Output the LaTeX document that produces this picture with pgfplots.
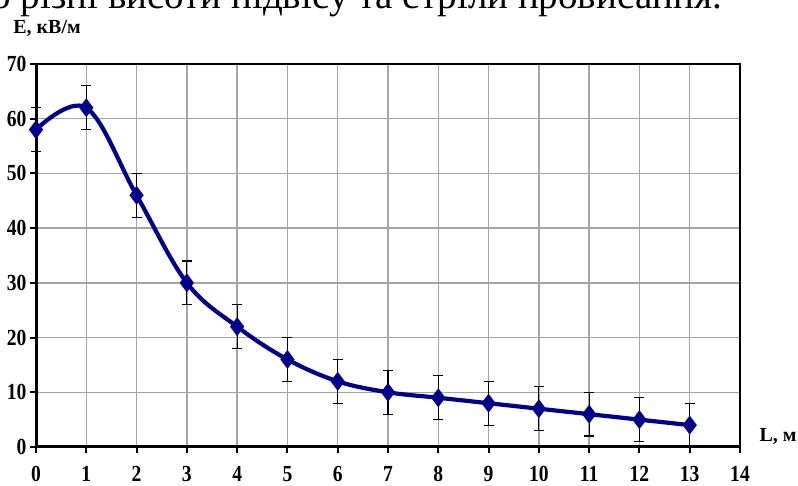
\documentclass[border=0pt]{standalone}
\usepackage{fontspec}
\setmainfont{Liberation Serif}
\newfontfamily\tickfont[FakeStretch=0.85]{Liberation Serif}
\usepackage{pgfplots}
\pgfplotsset{compat=1.18}
\definecolor{navy}{RGB}{0,0,140}
\definecolor{gridgray}{RGB}{165,165,165}
\begin{document}
\begin{tikzpicture}
\path[use as bounding box] (0pt,0pt) rectangle (798pt,486pt);
\clip (0pt,0pt) rectangle (798pt,486pt);
\node[anchor=base east,inner sep=0pt,font=\fontsize{39}{42}\selectfont] at (722pt,477pt) {що різні висоти підвісу та стріли провисання.};
\begin{axis}[
  at={(36pt,39pt)}, anchor=south west,
  scale only axis, width=704pt, height=383pt,
  xmin=0, xmax=14, ymin=0, ymax=70,
  xtick={0,1,...,14}, ytick={0,10,...,70},
  grid=major,
  major grid style={gridgray, line width=1.3pt},
  axis line style={black, line width=1.5pt},
  tick align=outside,
  major tick length=6pt,
  every tick/.style={black, line width=2pt},
  xtick pos=bottom, ytick pos=left,
  ticklabel style={font=\tickfont\fontsize{23}{25}\selectfont\bfseries},
  /pgf/number format/assume math mode=true,
  xticklabel style={yshift=-10pt},
  yticklabel style={xshift=0pt},
  clip=false,
]
\addplot[navy, line width=4.2pt, smooth, tension=0.6,
  mark=diamond*, mark size=6pt, mark options={solid, fill=navy},
  error bars/.cd, y dir=both, y explicit,
  error bar style={black, line width=1.2pt},
  error mark options={black, rotate=90, mark size=5pt, line width=1.2pt}]
 coordinates {
 (0,58) +- (0,4)
 (1,62) +- (0,4)
 (2,46) +- (0,4)
 (3,30) +- (0,4)
 (4,22) +- (0,4)
 (5,16) +- (0,4)
 (6,12) +- (0,4)
 (7,10) +- (0,4)
 (8,9) +- (0,4)
 (9,8) +- (0,4)
 (10,7) +- (0,4)
 (11,6) +- (0,4)
 (12,5) +- (0,4)
 (13,4) +- (0,4)
 };
\draw[black, line width=3pt] (rel axis cs:0,1) -- (rel axis cs:0,0) -- (rel axis cs:1,0);
\end{axis}
\node[font=\fontsize{20}{22}\selectfont\bfseries] at (47pt,458pt) {E, кВ/м};
\node[font=\fontsize{20}{22}\selectfont\bfseries] at (778pt,49pt) {L, м};
\end{tikzpicture}
\end{document}
